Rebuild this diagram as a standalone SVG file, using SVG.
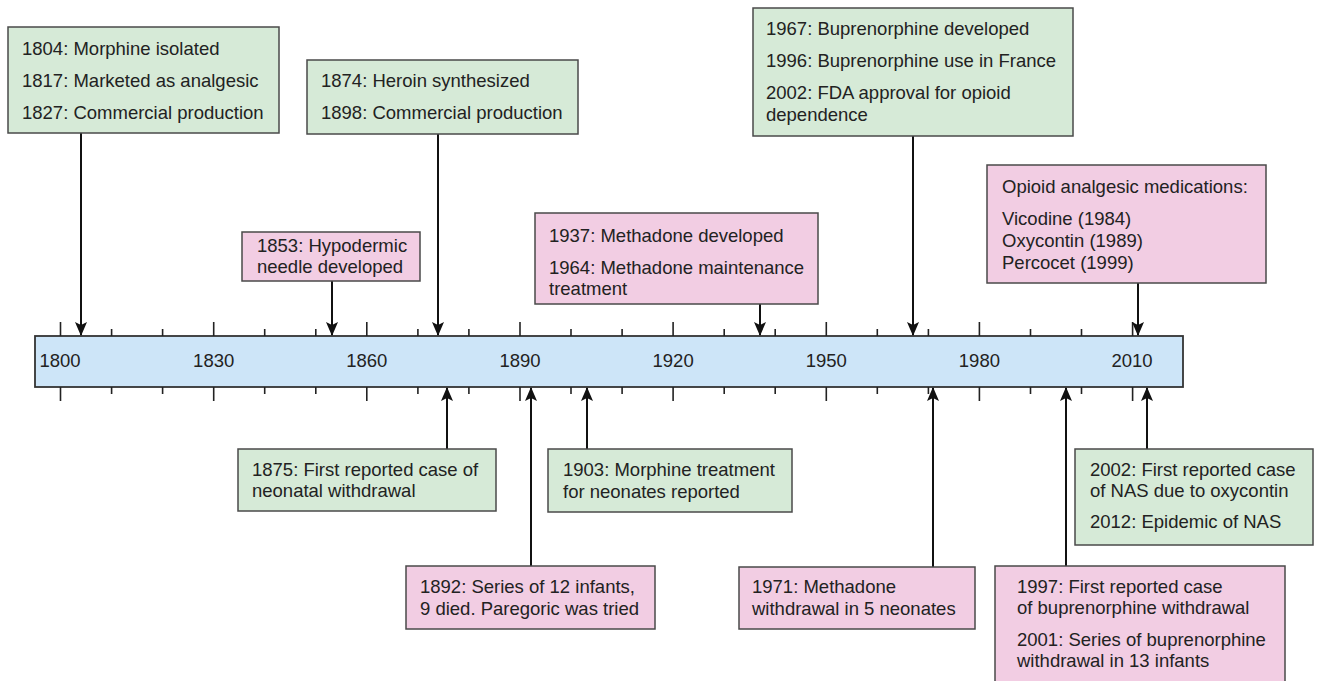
<svg xmlns="http://www.w3.org/2000/svg" width="1319" height="681" viewBox="0 0 1319 681">
<style>
text{font-family:"Liberation Sans",Arial,sans-serif;font-size:18.5px;fill:#222}
.g{fill:#d6ead7;stroke:#4a4a4a;stroke-width:1.5}
.p{fill:#f2cde3;stroke:#4a4a4a;stroke-width:1.5}
.bar{fill:#cde5f8;stroke:#333;stroke-width:1.8}
.tk{stroke:#222;stroke-width:1.6}
.yr{font-size:18.5px;text-anchor:middle}
.c{stroke:#111;stroke-width:2;fill:none}
</style>
<defs>
<marker id="ah" markerUnits="userSpaceOnUse" markerWidth="14" markerHeight="12" viewBox="0 0 14 12" refX="13" refY="6" orient="auto">
<path d="M0,0 L14,6 L0,12 L3,6 z" fill="#111"/>
</marker>
</defs>
<g id="timeline">
<rect class="bar" x="35" y="336" width="1148" height="51"/>
<g id="ticks">
<line class="tk" x1="60.5" y1="322" x2="60.5" y2="336"/><line class="tk" x1="60.5" y1="387" x2="60.5" y2="401"/>
<line class="tk" x1="111.6" y1="329" x2="111.6" y2="336"/><line class="tk" x1="111.6" y1="387" x2="111.6" y2="394"/>
<line class="tk" x1="162.6" y1="329" x2="162.6" y2="336"/><line class="tk" x1="162.6" y1="387" x2="162.6" y2="394"/>
<line class="tk" x1="213.7" y1="322" x2="213.7" y2="336"/><line class="tk" x1="213.7" y1="387" x2="213.7" y2="401"/>
<line class="tk" x1="264.7" y1="329" x2="264.7" y2="336"/><line class="tk" x1="264.7" y1="387" x2="264.7" y2="394"/>
<line class="tk" x1="315.8" y1="329" x2="315.8" y2="336"/><line class="tk" x1="315.8" y1="387" x2="315.8" y2="394"/>
<line class="tk" x1="366.8" y1="322" x2="366.8" y2="336"/><line class="tk" x1="366.8" y1="387" x2="366.8" y2="401"/>
<line class="tk" x1="417.9" y1="329" x2="417.9" y2="336"/><line class="tk" x1="417.9" y1="387" x2="417.9" y2="394"/>
<line class="tk" x1="468.9" y1="329" x2="468.9" y2="336"/><line class="tk" x1="468.9" y1="387" x2="468.9" y2="394"/>
<line class="tk" x1="520" y1="322" x2="520" y2="336"/><line class="tk" x1="520" y1="387" x2="520" y2="401"/>
<line class="tk" x1="571" y1="329" x2="571" y2="336"/><line class="tk" x1="571" y1="387" x2="571" y2="394"/>
<line class="tk" x1="622.1" y1="329" x2="622.1" y2="336"/><line class="tk" x1="622.1" y1="387" x2="622.1" y2="394"/>
<line class="tk" x1="673.1" y1="322" x2="673.1" y2="336"/><line class="tk" x1="673.1" y1="387" x2="673.1" y2="401"/>
<line class="tk" x1="724.2" y1="329" x2="724.2" y2="336"/><line class="tk" x1="724.2" y1="387" x2="724.2" y2="394"/>
<line class="tk" x1="775.2" y1="329" x2="775.2" y2="336"/><line class="tk" x1="775.2" y1="387" x2="775.2" y2="394"/>
<line class="tk" x1="826.3" y1="322" x2="826.3" y2="336"/><line class="tk" x1="826.3" y1="387" x2="826.3" y2="401"/>
<line class="tk" x1="877.3" y1="329" x2="877.3" y2="336"/><line class="tk" x1="877.3" y1="387" x2="877.3" y2="394"/>
<line class="tk" x1="928.4" y1="329" x2="928.4" y2="336"/><line class="tk" x1="928.4" y1="387" x2="928.4" y2="394"/>
<line class="tk" x1="979.4" y1="322" x2="979.4" y2="336"/><line class="tk" x1="979.4" y1="387" x2="979.4" y2="401"/>
<line class="tk" x1="1030.5" y1="329" x2="1030.5" y2="336"/><line class="tk" x1="1030.5" y1="387" x2="1030.5" y2="394"/>
<line class="tk" x1="1081.5" y1="329" x2="1081.5" y2="336"/><line class="tk" x1="1081.5" y1="387" x2="1081.5" y2="394"/>
<line class="tk" x1="1132.6" y1="322" x2="1132.6" y2="336"/><line class="tk" x1="1132.6" y1="387" x2="1132.6" y2="401"/>
</g>
<g id="years">
<text class="yr" x="60" y="367">1800</text>
<text class="yr" x="213.7" y="367">1830</text>
<text class="yr" x="366.8" y="367">1860</text>
<text class="yr" x="520" y="367">1890</text>
<text class="yr" x="673.1" y="367">1920</text>
<text class="yr" x="826.3" y="367">1950</text>
<text class="yr" x="979.4" y="367">1980</text>
<text class="yr" x="1132" y="367">2010</text>
</g>
</g>
<g id="connectors">
<line class="c" x1="81" y1="133" x2="81" y2="335" marker-end="url(#ah)"/>
<line class="c" x1="332" y1="281" x2="332" y2="335" marker-end="url(#ah)"/>
<line class="c" x1="438" y1="134" x2="438" y2="335" marker-end="url(#ah)"/>
<line class="c" x1="760" y1="304" x2="760" y2="335" marker-end="url(#ah)"/>
<line class="c" x1="913" y1="136" x2="913" y2="335" marker-end="url(#ah)"/>
<line class="c" x1="1138" y1="283" x2="1138" y2="335" marker-end="url(#ah)"/>
<line class="c" x1="447" y1="449" x2="447" y2="388" marker-end="url(#ah)"/>
<line class="c" x1="531" y1="566" x2="531" y2="388" marker-end="url(#ah)"/>
<line class="c" x1="587" y1="449" x2="587" y2="388" marker-end="url(#ah)"/>
<line class="c" x1="933" y1="567" x2="933" y2="388" marker-end="url(#ah)"/>
<line class="c" x1="1066" y1="566" x2="1066" y2="388" marker-end="url(#ah)"/>
<line class="c" x1="1147" y1="449" x2="1147" y2="388" marker-end="url(#ah)"/>
</g>
<g id="n1804">
<rect class="g" x="8" y="27" width="271" height="106"/>
<text x="22" y="55">1804: Morphine isolated</text>
<text x="22" y="87">1817: Marketed as analgesic</text>
<text x="22" y="119">1827: Commercial production</text>
</g>
<g id="n1874">
<rect class="g" x="307" y="60" width="271" height="74"/>
<text x="321" y="87">1874: Heroin synthesized</text>
<text x="321" y="119">1898: Commercial production</text>
</g>
<g id="n1853">
<rect class="p" x="242" y="232" width="178" height="49"/>
<text x="257" y="252">1853: Hypodermic</text>
<text x="257" y="273">needle developed</text>
</g>
<g id="n1937">
<rect class="p" x="535" y="213" width="283" height="91"/>
<text x="549" y="242">1937: Methadone developed</text>
<text x="549" y="274">1964: Methadone maintenance</text>
<text x="549" y="295">treatment</text>
</g>
<g id="n1967">
<rect class="g" x="753" y="8" width="320" height="128"/>
<text x="766" y="35">1967: Buprenorphine developed</text>
<text x="766" y="67">1996: Buprenorphine use in France</text>
<text x="766" y="99">2002: FDA approval for opioid</text>
<text x="766" y="121">dependence</text>
</g>
<g id="nOpioid">
<rect class="p" x="987" y="165" width="279" height="118"/>
<text x="1002" y="193">Opioid analgesic medications:</text>
<text x="1002" y="225">Vicodine (1984)</text>
<text x="1002" y="247">Oxycontin (1989)</text>
<text x="1002" y="269">Percocet (1999)</text>
</g>
<g id="n1875">
<rect class="g" x="238" y="449" width="258" height="62"/>
<text x="252" y="476">1875: First reported case of</text>
<text x="252" y="497">neonatal withdrawal</text>
</g>
<g id="n1903">
<rect class="g" x="548" y="449" width="244" height="63"/>
<text x="563" y="476">1903: Morphine treatment</text>
<text x="563" y="498">for neonates reported</text>
</g>
<g id="n1892">
<rect class="p" x="406" y="566" width="249" height="63"/>
<text x="420" y="593">1892: Series of 12 infants,</text>
<text x="420" y="615">9 died. Paregoric was tried</text>
</g>
<g id="n1971">
<rect class="p" x="739" y="567" width="236" height="62"/>
<text x="752" y="593">1971: Methadone</text>
<text x="752" y="615">withdrawal in 5 neonates</text>
</g>
<g id="n2002">
<rect class="g" x="1075" y="449" width="238" height="96"/>
<text x="1090" y="476">2002: First reported case</text>
<text x="1090" y="497">of NAS due to oxycontin</text>
<text x="1090" y="528">2012: Epidemic of NAS</text>
</g>
<g id="n1997">
<rect class="p" x="995" y="566" width="290" height="125"/>
<text x="1017" y="593">1997: First reported case</text>
<text x="1017" y="614">of buprenorphine withdrawal</text>
<text x="1017" y="646">2001: Series of buprenorphine</text>
<text x="1017" y="667">withdrawal in 13 infants</text>
</g>
</svg>
